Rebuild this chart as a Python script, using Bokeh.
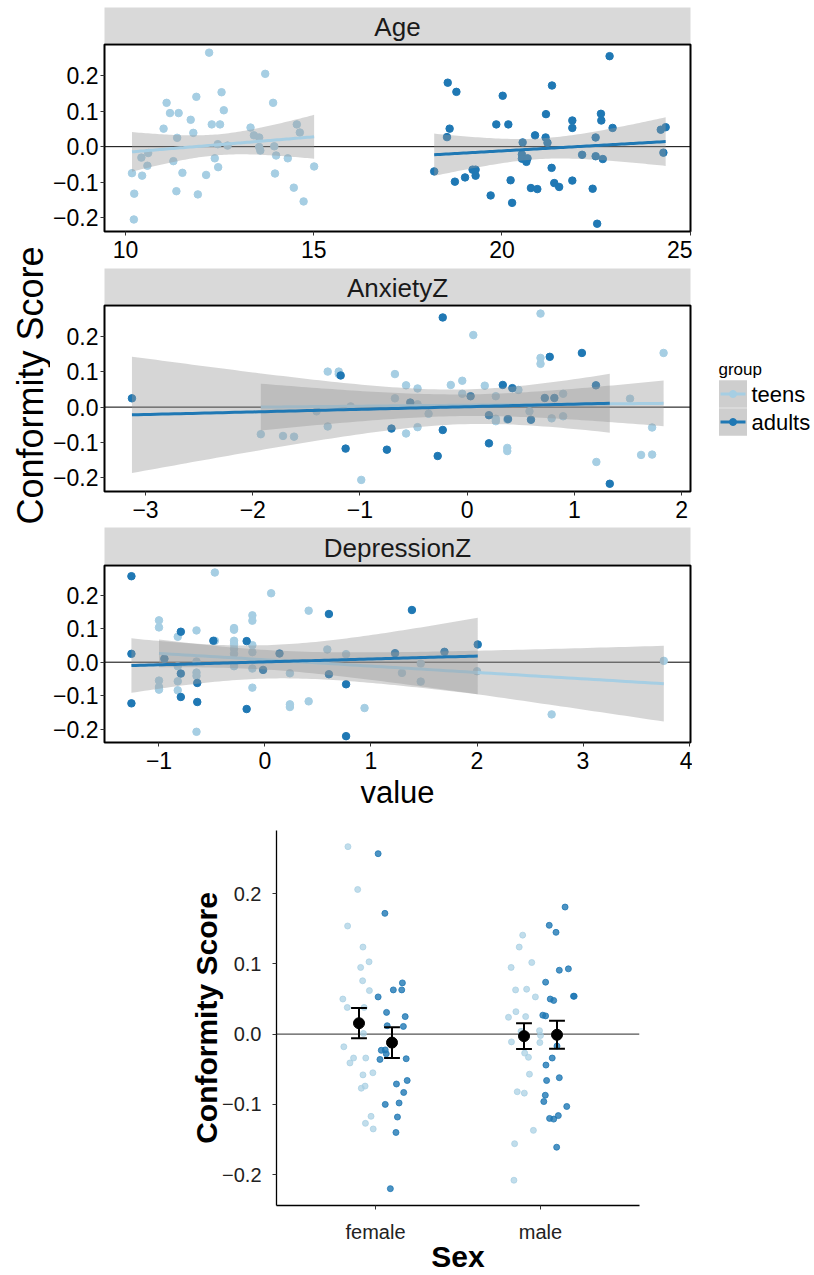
import numpy as np
from bokeh.plotting import figure
from bokeh.layouts import column, row
from bokeh.models import Range1d, FixedTicker, Span
from bokeh.embed import file_html
from bokeh.resources import INLINE
from bokeh.core.properties import value

TEEN = "#a6cee3"
ADULT = "#1f78b4"
FONT = "Liberation Sans"

# ---------------- data: facet panels ----------------
age_teens_x = [12.22, 13.71, 11.09, 11.88, 12.55, 13.92, 11.18, 11.41, 12.61, 11.73, 11.01, 12.29, 12.51,
               11.80, 11.37, 13.32, 13.41, 13.55, 14.55, 14.63, 12.45, 12.71, 13.55, 13.58, 13.95, 14.00,
               14.31, 10.60, 10.42, 10.58, 11.27, 12.37, 12.46, 10.17, 10.44, 11.51, 12.14, 13.97, 15.01,
               10.23, 11.35, 11.92, 14.47, 14.73, 10.22]
age_teens_y = [0.266, 0.206, 0.124, 0.141, 0.154, 0.124, 0.095, 0.095, 0.103, 0.076, 0.051, 0.063, 0.063,
               0.039, 0.025, 0.054, 0.032, 0.026, 0.063, 0.040, 0.007, 0.003, -0.001, -0.011, 0.001, -0.025,
               -0.033, -0.018, -0.031, -0.054, -0.041, -0.033, -0.058, -0.075, -0.082, -0.074, -0.080, -0.076,
               -0.056, -0.133, -0.126, -0.135, -0.116, -0.155, -0.206]
age_adults_x = [22.86, 18.56, 18.79, 20.02, 21.33, 21.17, 22.63, 22.64, 21.87, 21.87, 22.94, 18.61, 18.54,
                19.85, 20.17, 20.88, 21.16, 21.21, 20.55, 22.49, 24.22, 24.35, 24.29, 20.53, 20.53, 20.68,
                20.65, 22.13, 22.49, 22.68, 18.20, 19.22, 19.30, 19.30, 19.02, 18.75, 21.32, 20.23, 21.39,
                21.52, 21.87, 20.77, 20.94, 22.41, 19.70, 20.27, 22.53]
age_adults_y = [0.256, 0.181, 0.155, 0.144, 0.173, 0.092, 0.093, 0.074, 0.074, 0.053, 0.053, 0.051, 0.027,
                0.063, 0.063, 0.032, 0.026, 0.011, 0.012, 0.026, 0.048, 0.055, -0.017, -0.022, -0.034, -0.033,
                -0.043, -0.023, -0.027, -0.035, -0.070, -0.065, -0.065, -0.082, -0.087, -0.099, -0.060, -0.095,
                -0.103, -0.114, -0.096, -0.117, -0.120, -0.119, -0.138, -0.159, -0.218]

anx_teens_x = [0.684, 0.057, 1.832, 0.684, 0.684, -1.301, -1.198, -1.198, -0.674, -0.046, -0.570, -0.153,
               0.164, -0.463, 0.478, -0.046, 0.267, -0.674, 0.895, 1.519, -0.463, -1.087, -1.405, -0.360,
               0.581, 0.267, 0.267, 0.374, 0.788, 0.895, -1.301, -0.463, -0.570, -1.925, -1.718, -1.615,
               1.725, 0.374, 0.374, 1.622, 1.725, 1.205, -0.988]
anx_teens_y = [0.266, 0.205, 0.154, 0.140, 0.123, 0.101, 0.101, 0.094, 0.094, 0.075, 0.062, 0.063,
               0.061, 0.053, 0.049, 0.038, 0.031, 0.025, 0.038, 0.024, 0.008, 0.002, -0.012, -0.019,
               -0.012, -0.033, -0.040, -0.035, -0.032, -0.026, -0.055, -0.057, -0.075, -0.077, -0.082, -0.084,
               -0.058, -0.116, -0.125, -0.136, -0.135, -0.156, -0.207]
anx_adults_x = [-3.127, -0.228, 0.770, 1.070, -1.180, 0.332, 0.421, 1.201, 0.032, 0.724, 0.813, -0.531,
                0.203, 0.381, 0.595, -0.706, -0.228, -1.134, -0.749, 0.203, -0.275, 1.330]
anx_adults_y = [0.025, 0.255, 0.143, 0.154, 0.090, 0.063, 0.054, 0.062, 0.031, 0.026, 0.026, 0.013,
                -0.023, -0.034, -0.036, -0.061, -0.065, -0.118, -0.121, -0.103, -0.139, -0.218]

dep_teens_x = [-0.473, 0.058, 0.412, -1.0, -1.0, -0.119, -0.119, -0.646, -0.292, -0.292, -0.823, -0.473,
               -0.292, -0.292, -0.292, -0.119, -0.292, -0.119, 0.588, 0.765, -0.949, -0.646, -0.823, -0.292,
               -0.119, 1.469, 0.235, 1.292, -0.646, -0.646, 2.0, 3.762, -1.0, -1.0, -1.0, -0.823, -0.823,
               -0.119, 1.469, 0.235, 0.235, 0.412, 0.939, 2.704, -0.646]
dep_teens_y = [0.268, 0.206, 0.154, 0.125, 0.104, 0.140, 0.124, 0.095, 0.102, 0.097, 0.076, 0.064,
               0.064, 0.054, 0.040, 0.051, 0.025, 0.030, 0.038, 0.024, 0.011, 0.002, -0.012, -0.012,
               -0.019, -0.004, -0.033, -0.032, -0.031, -0.041, -0.027, 0.004, -0.055, -0.074, -0.082, -0.057,
               -0.084, -0.076, -0.058, -0.126, -0.134, -0.117, -0.137, -0.156, -0.208]
dep_adults_x = [-1.26, 0.603, 1.386, -0.794, -0.487, -0.173, -1.26, 0.137, -0.949, 1.227, 1.693, 2.007,
                -0.018, -0.794, 0.603, -0.639, 0.765, -1.26, -0.794, -0.639, -0.173, 0.765]
dep_adults_y = [0.257, 0.144, 0.156, 0.091, 0.064, 0.063, 0.025, 0.026, 0.010, 0.027, 0.031, 0.053,
                -0.023, -0.034, -0.036, -0.062, -0.066, -0.123, -0.104, -0.119, -0.140, -0.221]

# ---------------- data: sex plot ----------------
sex_labels = ["female", "male"]
ft_off = [-0.167, -0.108, -0.169, -0.076, -0.090, -0.039, -0.078, -0.037, -0.198, -0.171, -0.069, -0.073,
          -0.192, -0.133, -0.155, -0.059, -0.016, -0.076, -0.086, -0.063, -0.027, -0.061, -0.014]
ft_y = [0.267, 0.206, 0.154, 0.124, 0.095, 0.103, 0.076, 0.062, 0.050, 0.038, 0.038, 0.001,
        -0.018, -0.034, -0.041, -0.034, -0.055, -0.058, -0.077, -0.074, -0.117, -0.127, -0.135]
fa_off = [0.016, 0.057, 0.163, 0.108, 0.159, 0.016, 0.067, 0.180, 0.071, 0.169, 0.035, 0.059,
          0.065, 0.027, 0.186, 0.192, 0.127, 0.171, 0.059, 0.143, 0.133, 0.124, 0.090]
fa_y = [0.257, 0.172, 0.073, 0.063, 0.063, 0.053, 0.031, 0.025, 0.012, 0.011, -0.023, -0.0225,
        -0.028, -0.036, -0.035, -0.066, -0.071, -0.083, -0.100, -0.098, -0.118, -0.140, -0.220]
mt_off = [-0.108, -0.129, -0.053, -0.178, -0.151, -0.084, -0.031, -0.149, -0.194, -0.090, -0.118, -0.006,
          0.000, -0.176, -0.004, -0.096, -0.073, -0.067, -0.141, -0.098, -0.043, -0.157, -0.161]
mt_y = [0.141, 0.124, 0.102, 0.095, 0.063, 0.064, 0.053, 0.032, 0.024, 0.025, 0.004, 0.005,
        -0.002, -0.011, -0.012, -0.027, -0.033, -0.057, -0.082, -0.084, -0.137, -0.156, -0.208]
ma_off = [0.149, 0.053, 0.094, 0.114, 0.169, 0.031, 0.200, 0.204, 0.059, 0.080, 0.014, 0.031, 0.100,
          0.100, 0.071, 0.033, 0.037, 0.114, 0.029, 0.020, 0.159, 0.055, 0.080, 0.108, 0.098]
ma_y = [0.181, 0.155, 0.145, 0.091, 0.093, 0.074, 0.054, 0.054, 0.050, 0.048, 0.027, 0.026, -0.002,
        -0.017, -0.034, -0.044, -0.066, -0.062, -0.087, -0.096, -0.103, -0.120, -0.121, -0.116, -0.161]
mean_teens = [0.0156, -0.0028]
mean_adults = [-0.0120, -0.0009]
ci_teens = [0.0215, 0.0185]
ci_adults = [0.0220, 0.0200]

YLO, YHI = -0.240, 0.289
YTICKS = [-0.2, -0.1, 0.0, 0.1, 0.2]


def minus(v, fmt):
    s = fmt.format(abs(v))
    return ("\u2212" + s) if v < 0 else s


def t_crit(df):
    z = 1.959964
    g1 = (z ** 3 + z) / 4
    g2 = (5 * z ** 5 + 16 * z ** 3 + 3 * z) / 96
    g3 = (3 * z ** 7 + 19 * z ** 5 + 17 * z ** 3 - 15 * z) / 384
    return z + g1 / df + g2 / df ** 2 + g3 / df ** 3


def lm_band(x, y, n=80):
    x = np.asarray(x, float)
    y = np.asarray(y, float)
    b, a = np.polyfit(x, y, 1)
    xs = np.linspace(x.min(), x.max(), n)
    yh = a + b * xs
    dof = len(x) - 2
    s = np.sqrt(((y - (a + b * x)) ** 2).sum() / dof)
    sxx = ((x - x.mean()) ** 2).sum()
    se = s * np.sqrt(1.0 / len(x) + (xs - x.mean()) ** 2 / sxx)
    t = t_crit(dof)
    return xs, yh, yh - t * se, yh + t * se


def style_axis(ax, size="23px", color="black", standoff=2):
    ax.axis_line_color = None
    ax.major_tick_line_color = "#333333"
    ax.major_tick_out = 4
    ax.major_tick_in = 0
    ax.minor_tick_line_color = None
    ax.major_label_text_font = FONT
    ax.major_label_text_font_size = size
    ax.major_label_text_color = color
    ax.major_label_standoff = standoff


LB = 54  # left border of panels (label column is 50 wide)


def strip(label, height, top):
    s = figure(width=LB + 588, height=height, x_range=Range1d(0, 1), y_range=Range1d(0, 1),
               output_backend="svg", toolbar_location=None, x_axis_location=None, y_axis_location=None,
               min_border_left=LB, min_border_right=2, min_border_top=top, min_border_bottom=0)
    s.background_fill_color = "#d9d9d9"
    s.outline_line_color = None
    s.grid.visible = False
    s.text(x=[0.5], y=[0.45], text=[label], text_align="center", text_baseline="middle",
           text_font=value(FONT), text_font_size="26px", text_color="#1a1a1a")
    return s


def panel(xr, xticks, xfmt, tx, ty, ax_, ay_, height, bottom):
    p = figure(width=LB + 588, height=height, x_range=Range1d(*xr), y_range=Range1d(YLO, YHI),
               output_backend="svg", toolbar_location=None,
               min_border_left=LB, min_border_right=2, min_border_top=1, min_border_bottom=bottom)
    p.outline_line_color = "black"
    p.outline_line_width = 2
    p.grid.visible = False
    p.add_layout(Span(location=0, dimension="width", line_color="black", line_width=1, level="underlay"))
    p.scatter(tx, ty, size=7.5, color=TEEN)
    p.scatter(ax_, ay_, size=7.5, color=ADULT)
    for gx, gy, col in ((tx, ty, TEEN), (ax_, ay_, ADULT)):
        xs, yh, lo, hi = lm_band(gx, gy)
        p.varea(x=xs, y1=lo, y2=hi, fill_color="#999999", fill_alpha=0.4)
        p.line(xs, yh, line_color=col, line_width=3)
    p.xaxis.ticker = FixedTicker(ticks=xticks)
    p.xaxis.major_label_overrides = {v: minus(v, xfmt) for v in xticks}
    p.yaxis.ticker = FixedTicker(ticks=YTICKS)
    p.yaxis.major_label_overrides = {v: minus(v, "{:.1f}") for v in YTICKS}
    style_axis(p.xaxis[0], standoff=5)
    style_axis(p.yaxis[0], standoff=2)
    return p


s1 = strip("Age", 43, 7)
p1 = panel((9.44, 25.01), [10, 15, 20, 25], "{:d}", age_teens_x, age_teens_y,
           age_adults_x, age_adults_y, 225, 37)
s2 = strip("AnxietyZ", 36, 0)
p2 = panel((-3.383, 2.083), [-3, -2, -1, 0, 1, 2], "{:d}", anx_teens_x, anx_teens_y,
           anx_adults_x, anx_adults_y, 223, 36)
s3 = strip("DepressionZ", 37, 0)
p3 = panel((-1.514, 4.014), [-1, 0, 1, 2, 3, 4], "{:d}", dep_teens_x, dep_teens_y,
           dep_adults_x, dep_adults_y, 248, 60)
p3.xaxis.axis_label = "value"
p3.xaxis.axis_label_text_font = FONT
p3.xaxis.axis_label_text_font_size = "31px"
p3.xaxis.axis_label_text_font_style = "normal"
p3.xaxis.axis_label_text_color = "black"
p3.xaxis.axis_label_standoff = 3

# legend figure: its frame is aligned with p2's frame (page y 305..491)
LX0 = 50 + LB + 588
leg = figure(width=814 - LX0, height=223, x_range=Range1d(LX0, 814), y_range=Range1d(491, 305),
             output_backend="svg", toolbar_location=None, x_axis_location=None, y_axis_location=None,
             min_border=0)
leg.outline_line_color = None
leg.grid.visible = False
leg_groups = ["teens", "adults"]
leg_colors = [TEEN, ADULT]
leg_y = [393.5, 421.5]
leg.text(x=[718], y=[369], text=["group"], text_align="left", text_baseline="middle",
         text_font=value(FONT), text_font_size="17px", text_color="black")
leg.rect(x=[732.5, 732.5], y=leg_y, width=28, height=27.5, fill_color="#cecece", line_color=None)
leg.segment(x0=[720, 720], y0=leg_y, x1=[745, 745], y1=leg_y, line_color=leg_colors, line_width=3)
leg.scatter(x=[732.5, 732.5], y=leg_y, size=7, color=leg_colors)
leg.text(x=[751, 751], y=leg_y, text=leg_groups, text_align="left", text_baseline="middle",
         text_font=value(FONT), text_font_size="22px", text_color="black")

# y label figure
lab = figure(width=50, height=812, x_range=Range1d(0, 50), y_range=Range1d(0, 812),
             output_backend="svg", toolbar_location=None, x_axis_location=None, y_axis_location=None,
             min_border=0)
lab.outline_line_color = None
lab.grid.visible = False
lab.text(x=[30], y=[812 - 385], text=["Conformity Score"], angle=np.pi / 2, text_align="center",
         text_baseline="middle", text_font=value(FONT), text_font_size="36px", text_color="black")

# ---------------- sex plot ----------------
p4 = figure(width=814, height=463, x_range=Range1d(0.4, 2.6), y_range=Range1d(-0.244, 0.290),
            output_backend="svg", toolbar_location=None,
            min_border_left=276, min_border_right=175, min_border_top=18, min_border_bottom=57)
p4.outline_line_color = None
p4.grid.visible = False
p4.add_layout(Span(location=0, dimension="width", line_color="#555555", line_width=1.2, level="underlay"))
p4.scatter([1 + o for o in ft_off], ft_y, size=6, color=TEEN, alpha=0.7)
p4.scatter([2 + o for o in mt_off], mt_y, size=6, color=TEEN, alpha=0.7)
p4.scatter([1 + o for o in fa_off], fa_y, size=6, color=ADULT, alpha=0.8)
p4.scatter([2 + o for o in ma_off], ma_y, size=6, color=ADULT, alpha=0.8)
DODGE = 0.1
CAP = 0.048
xt = [i + 1 - DODGE for i in range(len(sex_labels))]
xa = [i + 1 + DODGE for i in range(len(sex_labels))]
for xs_, m, c in ((xt, mean_teens, ci_teens), (xa, mean_adults, ci_adults)):
    lo = [mm - cc for mm, cc in zip(m, c)]
    hi = [mm + cc for mm, cc in zip(m, c)]
    p4.segment(x0=xs_, y0=lo, x1=xs_, y1=hi, line_color="black", line_width=2)
    p4.segment(x0=[x - CAP for x in xs_], y0=lo, x1=[x + CAP for x in xs_], y1=lo, line_color="black", line_width=2)
    p4.segment(x0=[x - CAP for x in xs_], y0=hi, x1=[x + CAP for x in xs_], y1=hi, line_color="black", line_width=2)
    p4.scatter(xs_, m, size=11, color="black")
p4.xaxis.ticker = FixedTicker(ticks=[1, 2])
p4.xaxis.major_label_overrides = {i + 1: s for i, s in enumerate(sex_labels)}
p4.yaxis.ticker = FixedTicker(ticks=YTICKS)
p4.yaxis.major_label_overrides = {v: minus(v, "{:.1f}") for v in YTICKS}
for a in (p4.xaxis[0], p4.yaxis[0]):
    style_axis(a, size="20px", color="#222222", standoff=11)
    a.axis_line_color = "black"
    a.axis_line_width = 1.3
    a.axis_label_text_font = FONT
    a.axis_label_text_font_size = "30px"
    a.axis_label_text_font_style = "bold"
    a.axis_label_text_color = "black"
p4.xaxis.axis_label_standoff = -6
p4.yaxis.axis_label_standoff = -4
p4.xaxis.axis_label = "Sex"
p4.yaxis.axis_label = "Conformity Score"

top = column(s1, p1, s2, row(p2, leg), s3, p3)
layout = column(row(lab, top), p4)

open("out.html", "w").write(file_html(layout, INLINE))
